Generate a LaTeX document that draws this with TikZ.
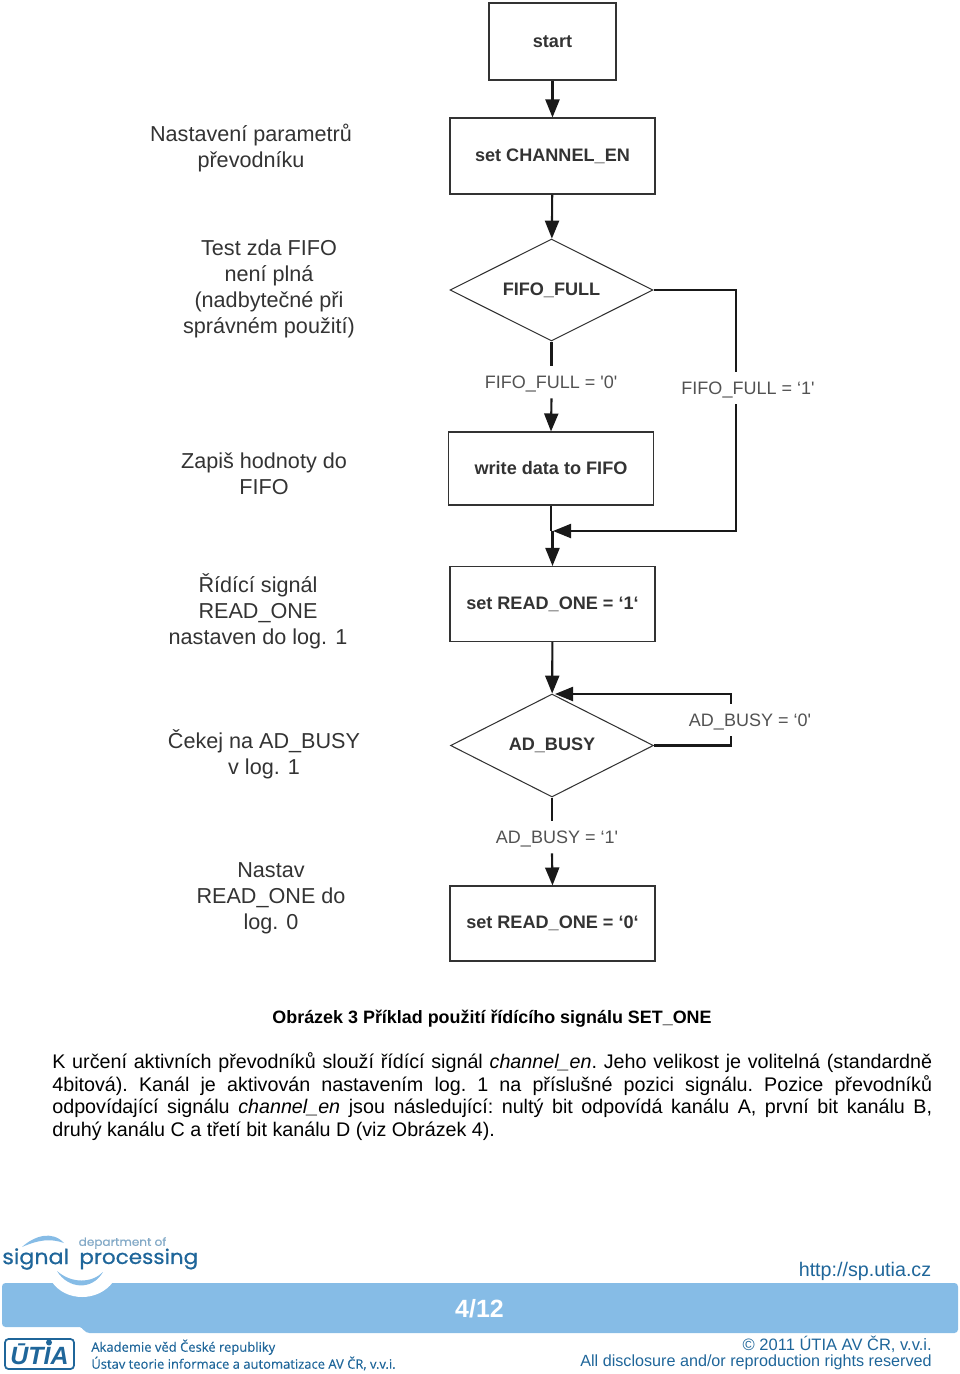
\documentclass[tikz,border=0pt]{standalone}
\usepackage{fontspec}
\setmainfont{Liberation Sans}
\newfontfamily\branchfont{Liberation Sans}
\newfontfamily\logofont[FakeBold=0.3]{Open Sans}
\newfontfamily\procfont[FakeBold=0.7,FakeStretch=1.07]{Poppins}
\usepackage{xcolor}
\usetikzlibrary{arrows.meta,shapes.geometric,calc}
\definecolor{bandblue}{HTML}{86BCE6}
\definecolor{footblue}{HTML}{1F669A}
\definecolor{greytext}{HTML}{333333}
\tikzset{>={Triangle[length=0.36cm,width=0.28cm]}}
\begin{document}
\begin{tikzpicture}[x=0.02cm,y=-0.02cm,
		stepbox/.style = {draw=black!80,line width=0.6pt,minimum width=4.1cm,minimum height=1.5cm,inner sep=0pt,
			font=\fontsize{10.3}{12}\selectfont\bfseries,text=greytext},
		testbox/.style = {draw=black!80,line width=0.6pt,shape=diamond,aspect=2,minimum width=4.06cm,minimum height=2.04cm,inner sep=0pt,
			font=\fontsize{10.3}{12}\selectfont\bfseries,text=greytext},
		flow/.style = {line width=1.2pt,black!90},
		note/.style = {align=center,text=greytext,font=\fontsize{12.3}{14.8}\selectfont},
		branch/.style = {text=greytext!85,minimum height=0.64cm,inner sep=0pt,text height=7.5pt,text depth=0pt,font=\branchfont\fontsize{10.25}{12}\selectfont},
		foot/.style = {text=footblue,inner sep=0pt,font=\fontsize{11.2}{13}\selectfont},
	]
	\useasboundingbox (0,0) rectangle (960,1374);
	% flowchart
	\node[stepbox,minimum width=2.54cm,minimum height=1.54cm] (start) at (552.5,41.5) {start};
	\node[stepbox,minimum height=1.52cm] (chan) at (552.5,156) {set CHANNEL\_EN};
	\node[testbox] (full) at (551.5,290) {FIFO\_FULL};
	\node[stepbox,minimum height=1.46cm] (write) at (551,468.5) {write data to FIFO};
	\node[stepbox] (one) at (552.5,604) {set READ\_ONE = ‘1‘};
	\node[testbox,minimum height=2.06cm] (busy) at (552,745.5) {AD\_BUSY};
	\node[stepbox] (zero) at (552.5,923.5) {set READ\_ONE = ‘0‘};
	% branch labels
	\node[branch] (full0) at (551,382) {FIFO\_FULL = '0'};
	\node[branch] (full1) at (748,388) {FIFO\_FULL = ‘1'};
	\node[branch] (busy0) at (750,720) {AD\_BUSY = ‘0'};
	\node[branch] (busy1) at (557,837) {AD\_BUSY = ‘1'};
	\coordinate (loopa) at (736,531);
	\coordinate (joina) at (553,531);
	\coordinate (loopb) at (731,745.5);
	\coordinate (joinb) at (555,694);
	% connectors
	\draw[flow,->] (start) -- (chan);
	\draw[flow,->] (chan) -- (full);
	\draw[flow] (full.south) -- (full.south |- full0.north);
	\draw[flow,->] (full.south |- full0.south) -- (write.north);
	\draw[flow] (full.east) -- (loopa |- full.east) -- (loopa |- full1.north);
	\draw[flow,->] (loopa |- full1.south) -- (loopa) -- (joina);
	\draw[flow] (write.south) -- (write.south |- joina);
	\draw[flow,->] (one.north |- joina) -- (one.north);
	\draw[flow,->] (one) -- (busy);
	\draw[flow] (busy.east) -- (loopb) -- (loopb |- busy0.south);
	\draw[flow,->] (loopb |- busy0.north) -- (loopb |- joinb) -- (joinb);
	\draw[flow] (busy.south) -- (busy.south |- busy1.north);
	\draw[flow,->] (busy.south |- busy1.south) -- (zero.north);
	% left notes
	\node[note] (n1) at (251,148) {Nastavení parametrů\\převodníku};
	\node[note] (n2) at (269,289) {Test zda FIFO\\není plná\\(nadbytečné při\\správném použití)};
	\node[note] (n3) at (264,474) {Zapiš hodnoty do\\FIFO};
	\node[note] (n4) at (258,611) {Řídící signál\\READ\_ONE\\nastaven do log. 1};
	\node[note] (n5) at (264,754) {Čekej na AD\_BUSY\\v log. 1};
	\node[note] (n6) at (271,898) {Nastav\\READ\_ONE do\\log. 0};
	% caption and paragraph
	\node[inner sep=0pt,font=\fontsize{10.2}{12}\selectfont\bfseries] (cap) at (492,1019) {Obrázek 3 Příklad použití řídícího signálu SET\_ONE};
	\node[anchor=north west,inner sep=0pt,text width=17.6cm,align=justify,font=\fontsize{11.22}{12.95}\selectfont\frenchspacing] (para) at (52,1052) {K určení aktivních převodníků slouží řídící signál \textit{channel\_en}. Jeho velikost je volitelná (standardně\linebreak 4bitová). Kanál je aktivován nastavením log. 1 na příslušné pozici signálu. Pozice převodníků\linebreak odpovídající signálu \textit{channel\_en} jsou následující: nultý bit odpovídá kanálu A, první bit kanálu B,\linebreak druhý kanálu C a třetí bit kanálu D (viz Obrázek 4).};
	% footer band
	\fill[bandblue,rounded corners=2pt] (2,1283) -- (958,1283) -- (958,1333) -- (86,1333) .. controls (83,1329) and (81,1327) .. (76,1327) -- (2,1327) -- cycle;
	\fill[white] (52,1282) .. controls (66,1302) and (98,1302) .. (113,1282) -- cycle;
	\fill[bandblue] (57,1271) .. controls (72,1284) and (92,1283) .. (103,1272) .. controls (92,1291) and (68,1289) .. (57,1271) -- cycle;
	\fill[bandblue] (22,1247) .. controls (34,1236) and (52,1230) .. (64,1243) .. controls (50,1238) and (38,1240) .. (22,1247) -- cycle;
	\node[inner sep=0pt,text=white,font=\fontsize{14.2}{16}\selectfont\bfseries] (page) at (479.5,1309) {4/12};
	\node[foot,anchor=east] (url) at (931.5,1271) {http://sp.utia.cz};
	\node[foot,anchor=east,font=\fontsize{9.4}{12}\selectfont] (copy) at (932,1344) {© 2011 ÚTIA AV ČR, v.v.i.};
	\node[foot,anchor=east,font=\fontsize{9.2}{12}\selectfont] (rights) at (932,1362) {All disclosure and/or reproduction rights reserved};
	% logos
	\node[inner sep=0pt,text=bandblue!70!gray,font=\procfont\fontsize{6.4}{8}\selectfont] (dept) at (122.5,1243) {department of};
	\node[inner sep=0pt,anchor=west,text=footblue,font=\procfont\fontsize{11.8}{13}\selectfont] (sig) at (2,1259) {signal};
	\node[inner sep=0pt,anchor=west,text=footblue,font=\procfont\fontsize{11.45}{13}\selectfont] (proc) at (79,1259) {processing};
	\node[draw=footblue,line width=1pt,rounded corners=2pt,minimum width=1.38cm,minimum height=0.6cm,inner sep=0pt,text=footblue,
		font=\fontsize{14.2}{15}\selectfont\bfseries\itshape] (utia) at (39.5,1354) {ŪTIA};
	\fill[footblue] (49,1342.5) circle (3);
	\node[inner sep=0pt,anchor=west,text=footblue,font=\logofont\fontsize{7.4}{8}\selectfont,align=left] (inst) at (91,1355) {\lineskiplimit=-10pt Akademie věd České republiky\\Ústav teorie informace a automatizace AV ČR, v.v.i.};
\end{tikzpicture}
\end{document}
